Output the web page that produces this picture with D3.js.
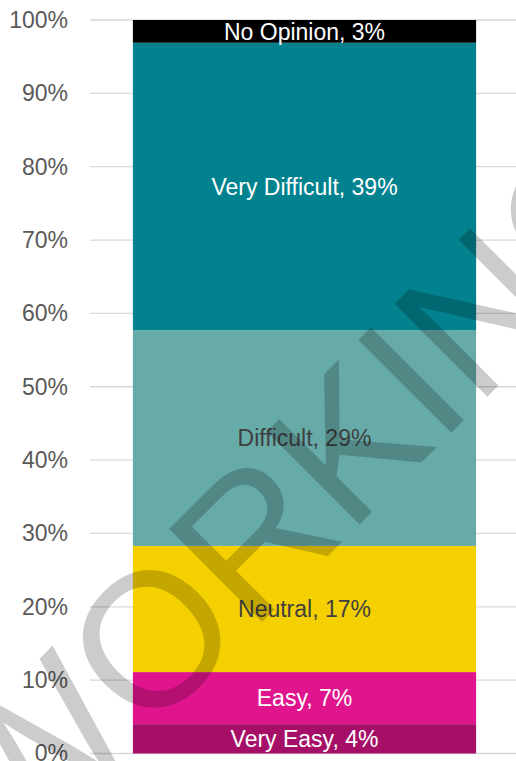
<!DOCTYPE html>
<html>
<head>
<meta charset="utf-8">
<script src="https://d3js.org/d3.v7.min.js"></script>
<style>
    body { margin: 0; background: #fff; }
    svg { display: block; }
</style>
</head>
<body>
<div id="chart"></div>
<script>
// data
var categories = ["Very Easy", "Easy", "Neutral", "Difficult", "Very Difficult", "No Opinion"];
var values = [4.0, 7.1, 17.2, 29.4, 39.2, 3.1];
var colors = ["#A50F67", "#E0158E", "#F5D000", "#66ABA8", "#02828F", "#000000"];
var labelColors = ["#ffffff", "#ffffff", "#404040", "#404040", "#ffffff", "#ffffff"];
var yTicks = [0, 10, 20, 30, 40, 50, 60, 70, 80, 90, 100];
var watermark = "WORKING";

var width = 516,
    height = 761;

var margin = {
    top: 20,
    right: -3,
    bottom: 7.5,
    left: 90
};

var svg = d3.select("#chart")
    .append("svg")
    .attr("width", width)
    .attr("height", height);

// scales
var yScale = d3.scaleLinear()
    .domain([0, 100])
    .range([height - margin.bottom, margin.top]);

var xScale = d3.scaleBand()
    .domain(["all"])
    .range([margin.left, width - margin.right])
    .paddingInner(0.2)
    .paddingOuter(0.1);

// gridlines
svg.append("g")
    .attr("class", "grid")
    .selectAll("line")
    .data(yTicks)
    .enter()
    .append("line")
    .attr("x1", margin.left)
    .attr("x2", width)
    .attr("y1", d => yScale(d))
    .attr("y2", d => yScale(d))
    .style("stroke", "#d9d9d9")
    .style("stroke-width", 1.3);

// left axis labels
var yAxis = svg.append("g")
    .attr("transform", "translate(68,0)")
    .call(d3.axisLeft(yScale)
        .tickValues(yTicks)
        .tickSize(0)
        .tickPadding(0)
        .tickFormat(d => d + "%"));

yAxis.select(".domain").remove();
yAxis.selectAll("text")
    .style("font-family", "Arial, 'Liberation Sans', sans-serif")
    .style("font-size", "23px")
    .style("fill", "#595959");

// stack the values
var stacked = [];
var running = 0;
values.forEach(function (v, i) {
    stacked.push({ name: categories[i], value: v, y0: running, y1: running + v, i: i });
    running += v;
});

// segments
svg.selectAll(".segment")
    .data(stacked)
    .enter()
    .append("rect")
    .attr("class", "segment")
    .attr("x", xScale("all"))
    .attr("width", xScale.bandwidth())
    .attr("y", d => yScale(d.y1))
    .attr("height", d => yScale(d.y0) - yScale(d.y1))
    .style("fill", d => colors[d.i]);

// segment labels
svg.selectAll(".seglabel")
    .data(stacked)
    .enter()
    .append("text")
    .attr("class", "seglabel")
    .attr("x", xScale("all") + xScale.bandwidth() / 2)
    .attr("y", d => (yScale(d.y0) + yScale(d.y1)) / 2)
    .attr("dy", "0.36em")
    .attr("text-anchor", "middle")
    .style("font-family", "Arial, 'Liberation Sans', sans-serif")
    .style("font-size", "23px")
    .style("fill", d => labelColors[d.i])
    .text(d => d.name + ", " + Math.round(d.value) + "%");

// watermark on top
svg.append("text")
    .attr("transform", "translate(18.5,865.5) rotate(-45)")
    .style("font-family", "Arial, 'Liberation Sans', sans-serif")
    .style("font-size", "191px")
    .style("fill", "#000")
    .style("fill-opacity", 0.2)
    .text(watermark);
</script>
</body>
</html>
